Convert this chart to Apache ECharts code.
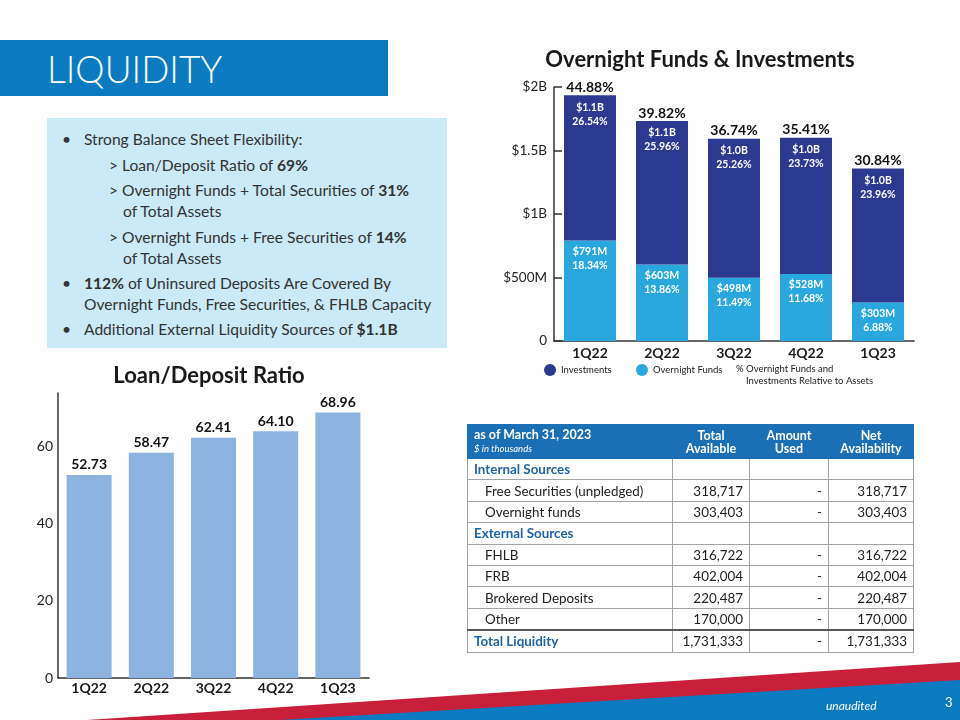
<!DOCTYPE html>
<html>
<head>
<meta charset="utf-8">
<script src="https://cdn.jsdelivr.net/npm/echarts@6/dist/echarts.min.js"></script>
<style>
  html, body { margin: 0; padding: 0; background: #fff; }
  body { width: 960px; height: 720px; position: relative; overflow: hidden; font-family: Lato, 'Open Sans', sans-serif; color: #333; }
  #chart { position: absolute; left: 0; top: 0; width: 960px; height: 720px; z-index: 0; }
  .band { position: absolute; left: 0; top: 40px; width: 388px; height: 56px; background: #0a7bc0; color: #fff;
          font-size: 37px; font-weight: 300; line-height: 58px; padding-left: 47px; box-sizing: border-box; z-index: 1; }
  .box { position: absolute; left: 47px; top: 118px; width: 400px; height: 230px; background: #c9eaf6; font-size: 15.6px; color: #333; z-index: 1; }
  .box div { position: absolute; white-space: nowrap; line-height: 20px; }
  table.liq { position: absolute; left: 467px; top: 424px; width: 446px; border-collapse: collapse; table-layout: fixed; z-index: 1;
              font-size: 13.4px; color: #222; }
  table.liq td { border: 1px solid #a3a3a3; height: 20.4px; padding: 0 6px; white-space: nowrap; }
  table.liq tr.hd td { background: #1a6fb5; color: #fff; font-weight: bold; font-size: 12.5px; line-height: 13px; height: 33px;
                       text-align: center; border: 1px solid #1a6fb5; border-left-color: #9cc3e4; }
  table.liq tr.hd td:first-child { text-align: left; border-left-color: #1a6fb5; }
  table.liq tr.hd i { font-weight: normal; font-size: 9.5px; }
  table.liq td.num { text-align: right; }
  table.liq td.item { padding-left: 17px; }
  table.liq tr.sec td { color: #1f64a6; font-weight: bold; }
  table.liq tr.total td { border-top: 2px solid #555; color: #222; }
  table.liq tr.total td:first-child { color: #1f64a6; font-weight: bold; }
</style>
</head>
<body>
<div id="chart"></div>
<div class="band">LIQUIDITY</div>
<div class="box">
  <div style="left:15px;top:11px">•</div>
  <div style="left:37px;top:11px">Strong Balance Sheet Flexibility:</div>
  <div style="left:62px;top:37px">&gt; Loan/Deposit Ratio of <b>69%</b></div>
  <div style="left:62px;top:62px">&gt; Overnight Funds + Total Securities of <b>31%</b></div>
  <div style="left:76px;top:83px">of Total Assets</div>
  <div style="left:62px;top:109px">&gt; Overnight Funds + Free Securities of <b>14%</b></div>
  <div style="left:76px;top:130px">of Total Assets</div>
  <div style="left:15px;top:155px">•</div>
  <div style="left:37px;top:155px"><b>112%</b> of Uninsured Deposits Are Covered By</div>
  <div style="left:37px;top:176px">Overnight Funds, Free Securities, &amp; FHLB Capacity</div>
  <div style="left:15px;top:201px">•</div>
  <div style="left:37px;top:201px">Additional External Liquidity Sources of <b>$1.1B</b></div>
</div>
<table class="liq" id="liq">
  <colgroup><col style="width:205px"><col style="width:77px"><col style="width:79px"><col style="width:85px"></colgroup>
</table>
<script>
// quarters shared by both charts
const quarters = ['1Q22', '2Q22', '3Q22', '4Q22', '1Q23'];

// Overnight Funds & Investments ($M)
const overnightFunds = [791, 603, 498, 528, 303];
const investments = [1145, 1129, 1095, 1073, 1055];
const overnightLabels = ['$791M', '$603M', '$498M', '$528M', '$303M'];
const overnightPct = ['18.34%', '13.86%', '11.49%', '11.68%', '6.88%'];
const investmentLabels = ['$1.1B', '$1.1B', '$1.0B', '$1.0B', '$1.0B'];
const investmentPct = ['26.54%', '25.96%', '25.26%', '23.73%', '23.96%'];
const totalPct = ['44.88%', '39.82%', '36.74%', '35.41%', '30.84%'];

// Loan/Deposit Ratio
const loanDepositRatio = [52.73, 58.47, 62.41, 64.10, 68.96];

// liquidity table: [label, total available, amount used, net availability, kind]
const tableHeader = ['as of March 31, 2023', 'Total<br>Available', 'Amount<br>Used', 'Net<br>Availability'];
const tableRows = [
  ['Internal Sources', '', '', '', 'sec'],
  ['Free Securities (unpledged)', '318,717', '-', '318,717', 'item'],
  ['Overnight funds', '303,403', '-', '303,403', 'item'],
  ['External Sources', '', '', '', 'sec'],
  ['FHLB', '316,722', '-', '316,722', 'item'],
  ['FRB', '402,004', '-', '402,004', 'item'],
  ['Brokered Deposits', '220,487', '-', '220,487', 'item'],
  ['Other', '170,000', '-', '170,000', 'item'],
  ['Total Liquidity', '1,731,333', '-', '1,731,333', 'total']
]

const tbl = document.getElementById('liq')
let html = '<tr class="hd"><td>' + tableHeader[0] + '<br><i>$ in thousands</i></td>'
for (let i = 1; i < tableHeader.length; i++) html += '<td>' + tableHeader[i] + '</td>'
html += '</tr>'
tableRows.forEach(function(r) {
  html += '<tr class="' + r[4] + '"><td class="' + (r[4] === 'item' ? 'item' : '') + '">' + r[0] + '</td>'
  html += '<td class="num">' + r[1] + '</td><td class="num">' + r[2] + '</td><td class="num">' + r[3] + '</td></tr>'
})
tbl.insertAdjacentHTML('beforeend', html)

const FONT = 'Lato, "Open Sans", sans-serif'
const myChart = echarts.init(document.getElementById('chart'), null, { renderer: 'canvas' })

const option = {
  animation: false,
  textStyle: { fontFamily: FONT },
  title: [
    {
      text: 'Overnight Funds & Investments',
      left: 695, top: 44, textAlign: 'center',
      textStyle: { fontSize: 22, fontWeight: 'bold', color: '#1a1a1a', fontFamily: FONT }
    },
    {
      text: 'Loan/Deposit Ratio',
      left: 204, top: 360, textAlign: 'center',
      textStyle: { fontSize: 22, fontWeight: 'bold', color: '#1a1a1a', fontFamily: FONT }
    }
  ],
  legend: [
    {
      data: ['Investments'], left: 544, top: 364, padding: 0, icon: 'circle', itemWidth: 12, itemHeight: 12,
      textStyle: { fontSize: 9.5, color: '#222' }
    },
    {
      data: ['Overnight Funds'], left: 636, top: 364, padding: 0, icon: 'circle', itemWidth: 12, itemHeight: 12,
      textStyle: { fontSize: 9.5, color: '#222' }
    }
  ],
  grid: [
    { left: 58, top: 393, width: 311, height: 285 },
    { left: 554, top: 87, width: 360, height: 254 }
  ],
  xAxis: [
    {
      type: 'category', gridIndex: 0, data: quarters,
      axisLine: { lineStyle: { color: '#333', width: 1.5 } },
      axisTick: { inside: true, length: 6, lineStyle: { color: '#333', width: 1.5 } },
      axisLabel: { fontSize: 14, fontWeight: 'bold', color: '#1a1a1a', margin: 3 }
    },
    {
      type: 'category', gridIndex: 1, data: quarters,
      axisLine: { lineStyle: { color: '#333', width: 1.5 } },
      axisTick: { inside: true, length: 6, lineStyle: { color: '#333', width: 1.5 } },
      axisLabel: { fontSize: 14, fontWeight: 'bold', color: '#1a1a1a', margin: 5 }
    }
  ],
  yAxis: [
    {
      type: 'value', gridIndex: 0, min: 0, max: 74, interval: 20,
      axisLine: { show: true, lineStyle: { color: '#333', width: 1.5 } },
      axisTick: { show: false },
      splitLine: { show: false },
      axisLabel: { fontSize: 14, color: '#222', margin: 5, showMaxLabel: false }
    },
    {
      type: 'value', gridIndex: 1, min: 0, max: 2000, interval: 500,
      axisLine: { show: true, lineStyle: { color: '#333', width: 1.5 } },
      axisTick: { show: true, inside: true, length: 8, lineStyle: { color: '#333', width: 1.5 } },
      splitLine: { show: false },
      axisLabel: {
        fontSize: 13.5, color: '#222', margin: 7,
        formatter: function(v) {
          if (v === 0) return '0'
          return v < 1000 ? '$' + v + 'M' : '$' + (v / 1000) + 'B'
        }
      }
    }
  ],
  series: [
    {
      name: 'Loan/Deposit Ratio', type: 'bar', xAxisIndex: 0, yAxisIndex: 0,
      data: loanDepositRatio, barWidth: 45,
      itemStyle: { color: '#8db3e0' },
      label: {
        show: true, position: 'top', distance: 3, fontSize: 14, fontWeight: 'bold', color: '#111',
        formatter: function(p) { return p.value.toFixed(2) }
      }
    },
    {
      name: 'Overnight Funds', type: 'bar', xAxisIndex: 1, yAxisIndex: 1, stack: 'of',
      data: overnightFunds, barWidth: 52,
      itemStyle: { color: '#29a8e0' },
      label: {
        show: true, position: 'insideTop', distance: 4, fontSize: 10.5, fontWeight: 'bold', color: '#fff', lineHeight: 14,
        formatter: function(p) { return overnightLabels[p.dataIndex] + '\n' + overnightPct[p.dataIndex] }
      }
    },
    {
      name: 'Investments', type: 'bar', xAxisIndex: 1, yAxisIndex: 1, stack: 'of',
      data: investments, barWidth: 52,
      itemStyle: { color: '#2b3990' },
      label: {
        show: true, position: 'insideTop', distance: 5, fontSize: 10.5, fontWeight: 'bold', color: '#fff', lineHeight: 14,
        formatter: function(p) { return investmentLabels[p.dataIndex] + '\n' + investmentPct[p.dataIndex] }
      }
    },
    {
      name: 'Total %', type: 'bar', xAxisIndex: 1, yAxisIndex: 1, stack: 'of',
      data: quarters.map(function() { return 0 }), barWidth: 52,
      itemStyle: { color: 'transparent' },
      label: {
        show: true, position: 'top', distance: 1, fontSize: 14, fontWeight: 'bold', color: '#111',
        formatter: function(p) { return totalPct[p.dataIndex] }
      }
    }
  ],
  graphic: [
    { type: 'polygon', z: -10, shape: { points: [[87, 720], [960, 662], [960, 720]] }, style: { fill: '#c8203a' } },
    { type: 'polygon', z: -9, shape: { points: [[280, 720], [960, 680], [960, 720]] }, style: { fill: '#0a7bc0' } },
    {
      type: 'text', x: 736, y: 364,
      style: { text: '% Overnight Funds and', font: '9.5px ' + FONT, fill: '#222' }
    },
    {
      type: 'text', x: 746, y: 376,
      style: { text: 'Investments Relative to Assets', font: '9.5px ' + FONT, fill: '#222' }
    },
    {
      type: 'text', x: 826, y: 700,
      style: { text: 'unaudited', font: 'italic 12px ' + FONT, fill: '#fff' }
    },
    {
      type: 'text', x: 945, y: 696,
      style: { text: '3', font: '13px ' + FONT, fill: '#fff' }
    }
  ]
}

option && myChart.setOption(option)
</script>
</body>
</html>
